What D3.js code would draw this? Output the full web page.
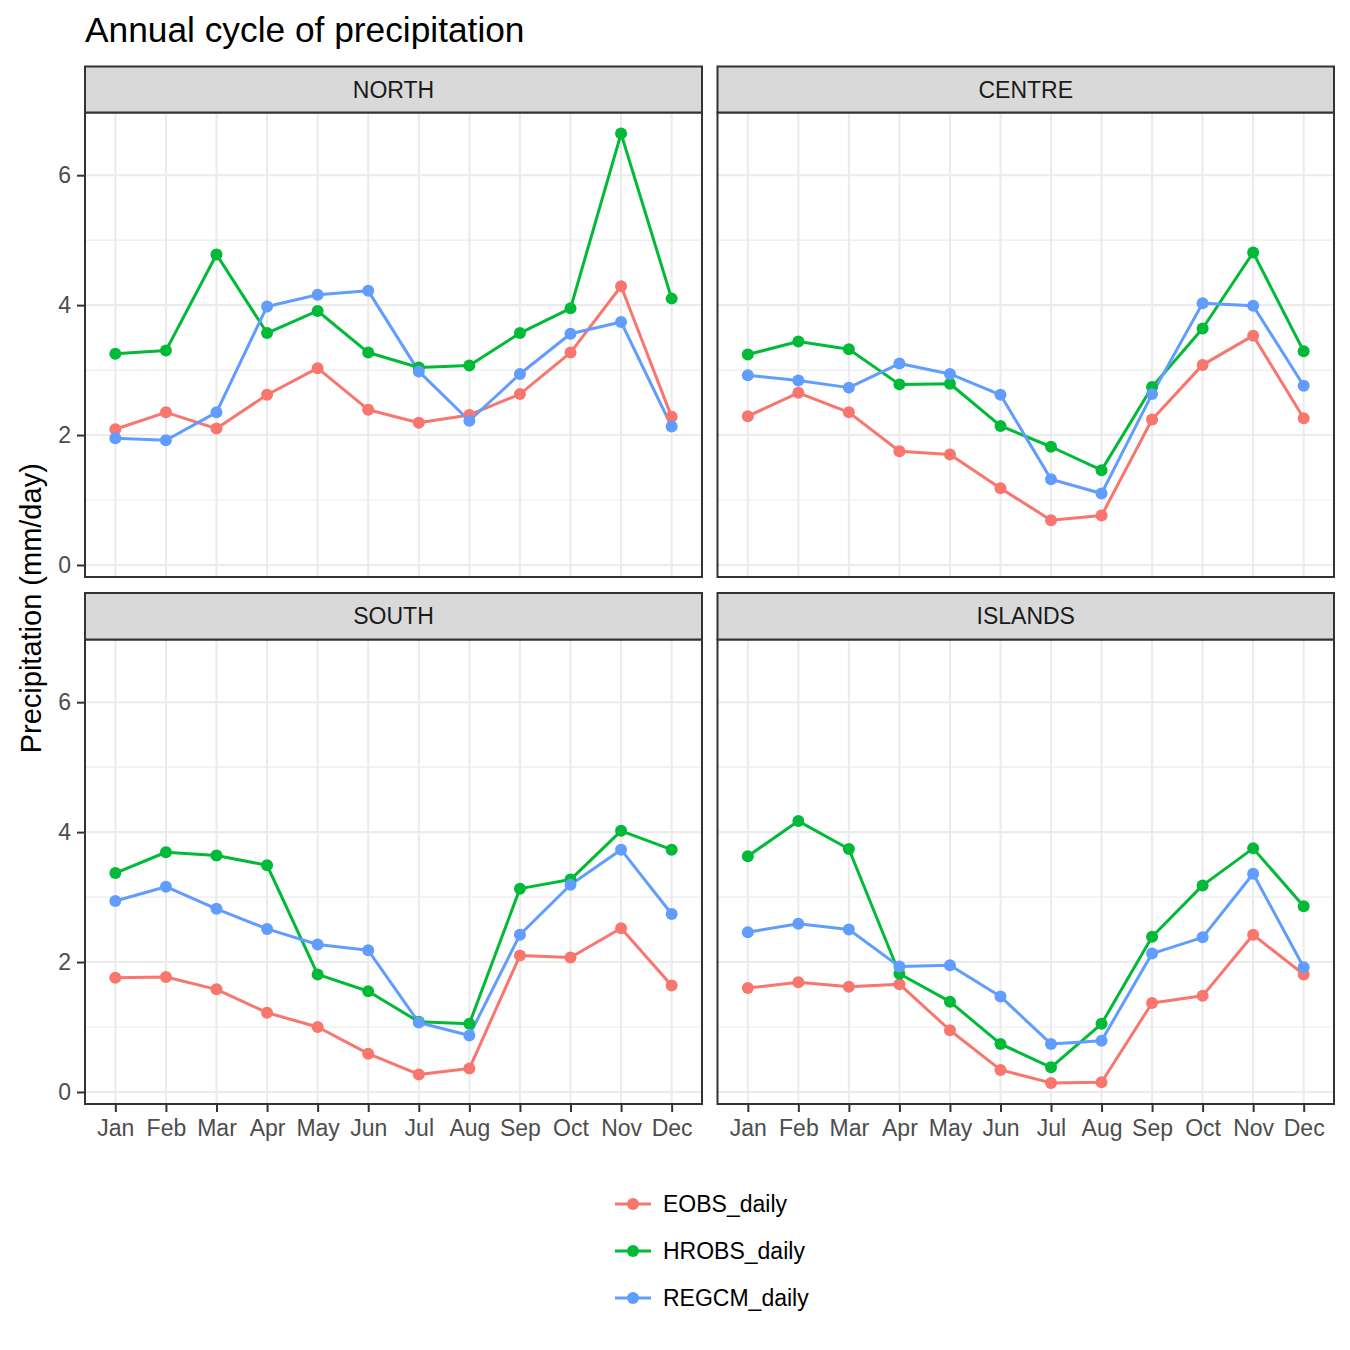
<!DOCTYPE html>
<html>
<head>
<meta charset="utf-8">
<script src="https://cdn.jsdelivr.net/npm/d3@7"></script>
<style>
  html, body { margin: 0; padding: 0; background: #fff; }
  svg { display: block; font-family: "Liberation Sans", Arial, Helvetica, sans-serif; }
</style>
</head>
<body>
<svg id="chart" width="1350" height="1350"></svg>
<script>
// ---------- data ----------
const months = ["Jan","Feb","Mar","Apr","May","Jun","Jul","Aug","Sep","Oct","Nov","Dec"];
const regions = ["NORTH","CENTRE","SOUTH","ISLANDS"];
const seriesNames = ["EOBS_daily","HROBS_daily","REGCM_daily"];
const yTicks = [0, 2, 4, 6];

const eobsNorth   = [2.09, 2.35, 2.10, 2.62, 3.03, 2.39, 2.19, 2.31, 2.63, 3.27, 4.29, 2.28];
const hrobsNorth  = [3.25, 3.30, 4.78, 3.57, 3.91, 3.27, 3.04, 3.07, 3.57, 3.95, 6.64, 4.10];
const regcmNorth  = [1.95, 1.92, 2.35, 3.98, 4.16, 4.22, 2.98, 2.22, 2.94, 3.56, 3.74, 2.13];

const eobsCentre  = [2.29, 2.65, 2.35, 1.75, 1.70, 1.18, 0.69, 0.76, 2.24, 3.08, 3.53, 2.26];
const hrobsCentre = [3.24, 3.44, 3.32, 2.78, 2.79, 2.14, 1.82, 1.46, 2.74, 3.64, 4.81, 3.29];
const regcmCentre = [2.92, 2.84, 2.73, 3.10, 2.94, 2.62, 1.32, 1.10, 2.63, 4.03, 3.99, 2.76];

const eobsSouth   = [1.76, 1.77, 1.58, 1.22, 1.00, 0.59, 0.27, 0.36, 2.10, 2.07, 2.52, 1.64];
const hrobsSouth  = [3.37, 3.69, 3.64, 3.49, 1.81, 1.55, 1.08, 1.05, 3.13, 3.27, 4.02, 3.73];
const regcmSouth  = [2.94, 3.16, 2.82, 2.51, 2.27, 2.18, 1.07, 0.87, 2.42, 3.19, 3.73, 2.74];

const eobsIslands  = [1.60, 1.69, 1.62, 1.66, 0.95, 0.34, 0.14, 0.15, 1.37, 1.48, 2.42, 1.81];
const hrobsIslands = [3.63, 4.17, 3.74, 1.82, 1.39, 0.74, 0.38, 1.05, 2.39, 3.18, 3.75, 2.86];
const regcmIslands = [2.46, 2.59, 2.50, 1.93, 1.95, 1.47, 0.74, 0.79, 2.13, 2.38, 3.36, 1.92];

const regionData = {
  NORTH:   [eobsNorth, hrobsNorth, regcmNorth],
  CENTRE:  [eobsCentre, hrobsCentre, regcmCentre],
  SOUTH:   [eobsSouth, hrobsSouth, regcmSouth],
  ISLANDS: [eobsIslands, hrobsIslands, regcmIslands]
};

// ---------- layout ----------
const colors = ["#F8766D", "#00BA38", "#619CFF"];
const svg = d3.select("#chart");

const colX = [[85, 702], [717.5, 1334]];
const rowY = [ {stripTop: 66.5, panelTop: 112.5, panelBottom: 577},
               {stripTop: 593,  panelTop: 639.5, panelBottom: 1104} ];

const allVals = [].concat(...regions.map(r => [].concat(...regionData[r])));
const ext = d3.extent(allVals);
const pad = 0.05 * (ext[1] - ext[0]);
const yDomain = [ext[0] - pad, ext[1] + pad];

const axisTextColor = "#4D4D4D";
const fontSize = 23;

// title
svg.append("text")
  .attr("x", 85).attr("y", 42)
  .attr("font-size", 35.3)
  .attr("fill", "#000")
  .text("Annual cycle of precipitation");

// y-axis title
svg.append("text")
  .attr("transform", `translate(41, ${(112.5 + 1104) / 2}) rotate(-90)`)
  .attr("text-anchor", "middle")
  .attr("font-size", 29)
  .attr("fill", "#000")
  .text("Precipitation (mm/day)");

regions.forEach((region, i) => {
  const col = i % 2, row = Math.floor(i / 2);
  const [x0, x1] = colX[col];
  const ry = rowY[row];

  const x = d3.scalePoint().domain(months).range([x0, x1]).padding(0.6);
  const y = d3.scaleLinear().domain(yDomain).range([ry.panelBottom, ry.panelTop]);

  const g = svg.append("g");

  g.append("rect").attr("x", x0).attr("y", ry.panelTop)
    .attr("width", x1 - x0).attr("height", ry.panelBottom - ry.panelTop)
    .attr("fill", "#fff");

  // minor y grid
  const minor = [1, 3, 5];
  g.selectAll(".minor").data(minor).enter().append("line")
    .attr("x1", x0).attr("x2", x1)
    .attr("y1", d => y(d)).attr("y2", d => y(d))
    .attr("stroke", "#EBEBEB").attr("stroke-width", 1.1);

  // major y grid
  g.selectAll(".majory").data(yTicks).enter().append("line")
    .attr("x1", x0).attr("x2", x1)
    .attr("y1", d => y(d)).attr("y2", d => y(d))
    .attr("stroke", "#EBEBEB").attr("stroke-width", 2.1);

  // major x grid
  g.selectAll(".majorx").data(months).enter().append("line")
    .attr("x1", d => x(d)).attr("x2", d => x(d))
    .attr("y1", ry.panelTop).attr("y2", ry.panelBottom)
    .attr("stroke", "#EBEBEB").attr("stroke-width", 2.1);

  const series = regionData[region];
  const line = d3.line().x((d, j) => x(months[j])).y(d => y(d));

  series.forEach((vals, s) => {
    g.append("path").datum(vals)
      .attr("d", line)
      .attr("fill", "none")
      .attr("stroke", colors[s])
      .attr("stroke-width", 3)
      .attr("stroke-linejoin", "round");
  });
  series.forEach((vals, s) => {
    g.selectAll(null).data(vals).enter().append("circle")
      .attr("cx", (d, j) => x(months[j]))
      .attr("cy", d => y(d))
      .attr("r", 6)
      .attr("fill", colors[s]);
  });

  g.append("rect").attr("x", x0).attr("y", ry.panelTop)
    .attr("width", x1 - x0).attr("height", ry.panelBottom - ry.panelTop)
    .attr("fill", "none").attr("stroke", "#333333").attr("stroke-width", 2);

  g.append("rect").attr("x", x0).attr("y", ry.stripTop)
    .attr("width", x1 - x0).attr("height", ry.panelTop - ry.stripTop)
    .attr("fill", "#D9D9D9").attr("stroke", "#333333").attr("stroke-width", 2);
  g.append("text")
    .attr("x", (x0 + x1) / 2).attr("y", (ry.stripTop + ry.panelTop) / 2 + 8.2)
    .attr("text-anchor", "middle")
    .attr("font-size", fontSize)
    .attr("fill", "#1A1A1A")
    .text(region);

  if (col === 0) {
    const yAxis = d3.axisLeft(y).tickValues(yTicks).tickSize(7).tickPadding(6).tickFormat(d3.format("d"));
    const ga = svg.append("g").attr("transform", `translate(${x0 - 1},0)`).call(yAxis);
    ga.select(".domain").remove();
    ga.selectAll(".tick line").attr("stroke", "#333333").attr("stroke-width", 2);
    ga.selectAll(".tick text").attr("font-size", fontSize).attr("fill", axisTextColor)
      .attr("font-family", "Liberation Sans, Arial, sans-serif");
  }
  if (row === 1) {
    const xAxis = d3.axisBottom(x).tickSize(7).tickPadding(8);
    const ga = svg.append("g").attr("transform", `translate(0,${ry.panelBottom + 1})`).call(xAxis);
    ga.select(".domain").remove();
    ga.selectAll(".tick line").attr("stroke", "#333333").attr("stroke-width", 2);
    ga.selectAll(".tick text").attr("font-size", fontSize).attr("fill", axisTextColor)
      .attr("font-family", "Liberation Sans, Arial, sans-serif");
  }
});

// legend
const legend = svg.append("g");
const legendY = d3.scalePoint().domain(seriesNames).range([1204, 1298]);
seriesNames.forEach((name, s) => {
  const cy = legendY(name);
  legend.append("line").attr("x1", 615).attr("x2", 651).attr("y1", cy).attr("y2", cy)
    .attr("stroke", colors[s]).attr("stroke-width", 3);
  legend.append("circle").attr("cx", 633).attr("cy", cy).attr("r", 6).attr("fill", colors[s]);
  legend.append("text").attr("x", 663).attr("y", cy + 8.2)
    .attr("font-size", fontSize).attr("fill", "#000").text(name);
});
</script>
</body>
</html>
